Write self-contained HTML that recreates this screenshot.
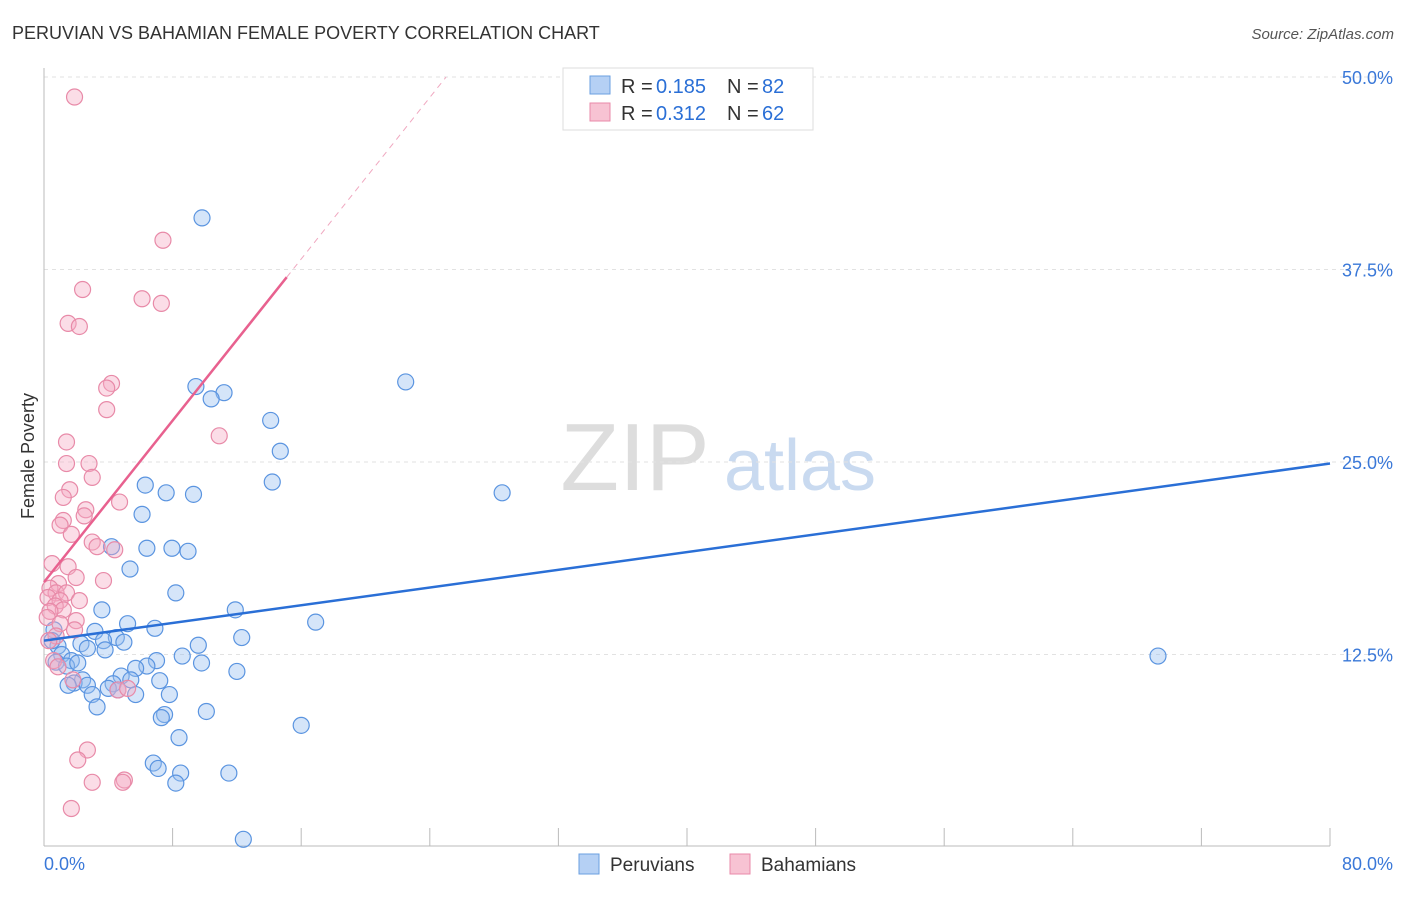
<!DOCTYPE html>
<html><head><meta charset="utf-8"><style>
body{margin:0;background:#fff;font-family:"Liberation Sans",sans-serif;}
svg text{font-family:"Liberation Sans",sans-serif;}
</style></head><body>
<svg id="chart" width="1406" height="892" viewBox="0 0 1406 892" xmlns="http://www.w3.org/2000/svg">
<text x="12" y="39" font-size="18" fill="#333">PERUVIAN VS BAHAMIAN FEMALE POVERTY CORRELATION CHART</text>
<text x="1394" y="39" font-size="15" fill="#555" text-anchor="end" font-style="italic">Source: ZipAtlas.com</text>
<text x="34" y="456" font-size="18" fill="#333" text-anchor="middle" transform="rotate(-90 34 456)">Female Poverty</text>
<g>
<text x="635" y="490" font-size="96" fill="#ddd" font-family="Liberation Serif,serif" text-anchor="middle">ZIP</text>
<text x="800" y="490" font-size="72" fill="#c9daf0" text-anchor="middle">atlas</text>
</g>
<g id="grid"></g><g id="axes"></g><g id="pts"></g><g id="lines"></g>
<g>
<rect x="563" y="68" width="250" height="62" fill="#fff" stroke="#ddd"/>
<rect x="590" y="76" width="20" height="18" fill="#b5d0f4" stroke="#6a9fe0"/>
<text x="621" y="93" font-size="20" fill="#333">R =</text>
<text x="656" y="93" font-size="20" fill="#2a6fd6">0.185</text>
<text x="727" y="93" font-size="20" fill="#333">N =</text>
<text x="762" y="93" font-size="20" fill="#2a6fd6">82</text>
<rect x="590" y="103" width="20" height="18" fill="#f7c3d3" stroke="#e88aa8"/>
<text x="621" y="120" font-size="20" fill="#333">R =</text>
<text x="656" y="120" font-size="20" fill="#2a6fd6">0.312</text>
<text x="727" y="120" font-size="20" fill="#333">N =</text>
<text x="762" y="120" font-size="20" fill="#2a6fd6">62</text>
</g>
<g>
<rect x="579" y="854" width="20" height="20" fill="#b5d0f4" stroke="#6a9fe0"/>
<text x="610" y="871" font-size="19" fill="#333">Peruvians</text>
<rect x="730" y="854" width="20" height="20" fill="#f7c3d3" stroke="#e88aa8"/>
<text x="761" y="871" font-size="19" fill="#333">Bahamians</text>
</g>
</svg>
<script>
const xTicks=[0,8,16,24,32,40,48,56,64,72,80];
const yTicks=[12.5,25,37.5,50];
const yTickLabels=["12.5%","25.0%","37.5%","50.0%"];
const xTickLabels=["0.0%","80.0%"];
const peruX=[9.83,22.5,28.5,69.3,9.45,11.2,10.4,14.1,14.7,14.2,6.3,7.6,9.3,6.1,4.2,6.4,7.96,8.96,5.35,8.2,3.6,11.9,16.9,5.2,6.9,3.17,0.62,4.5,4.97,3.7,2.3,12.3,9.6,0.87,0.5,2.7,1.1,3.8,1.7,8.6,9.8,7.0,6.4,5.7,0.75,1.4,2.1,12.0,4.8,5.4,2.4,1.87,2.7,1.5,4.3,7.2,4.0,4.6,3.0,5.7,7.8,3.3,10.1,7.5,7.3,16.0,8.4,6.8,7.1,8.5,11.5,8.2,12.4];
const peruY=[40.85,30.2,23.0,12.4,29.9,29.5,29.1,27.7,25.7,23.7,23.5,23.0,22.9,21.6,19.5,19.4,19.4,19.2,18.05,16.5,15.4,15.4,14.6,14.5,14.2,14.0,14.1,13.6,13.3,13.4,13.2,13.6,13.1,13.05,13.4,12.9,12.5,12.8,12.1,12.4,11.95,12.1,11.75,11.6,12.0,11.75,11.95,11.4,11.1,10.85,10.85,10.65,10.5,10.5,10.6,10.8,10.3,10.2,9.9,9.9,9.9,9.1,8.8,8.6,8.4,7.9,7.1,5.45,5.1,4.8,4.8,4.15,0.5];
const bahaX=[1.9,7.4,2.4,6.1,7.3,1.5,2.2,4.2,3.9,3.9,10.9,1.4,1.4,2.8,3.0,1.6,1.2,4.7,2.6,2.5,1.2,1.0,1.7,3.0,3.3,4.4,0.5,1.5,2.0,3.7,0.9,0.37,0.75,1.4,0.25,1.0,2.2,0.7,1.2,0.37,2.0,0.2,1.0,1.9,0.75,0.3,0.6,0.87,1.8,4.6,5.2,2.7,2.1,3.0,5.0,4.9,1.7];
const bahaY=[48.7,39.4,36.2,35.6,35.3,34.0,33.8,30.1,29.8,28.4,26.7,26.3,24.9,24.9,24.0,23.2,22.7,22.4,21.9,21.5,21.2,20.9,20.3,19.8,19.5,19.3,18.4,18.2,17.5,17.3,17.1,16.8,16.5,16.5,16.2,16.0,16.0,15.65,15.4,15.3,14.7,14.9,14.5,14.1,13.7,13.4,12.1,11.7,10.85,10.2,10.3,6.3,5.65,4.2,4.35,4.2,2.5];
const peruTrend=[13.4,24.9];
const bahaTrend=[17.2,37.0,15.1];
const NS="http://www.w3.org/2000/svg";
const X=v=>44+v/80*1286, Y=v=>847-v/12.5*192.5;
function mk(tag,attrs,parent){const e=document.createElementNS(NS,tag);for(const k in attrs)e.setAttribute(k,attrs[k]);document.getElementById(parent).appendChild(e);return e;}
yTicks.forEach((t,i)=>{
 const g=mk('line',{x1:44,x2:1394,y1:Y(t),y2:Y(t),stroke:'#e2e2e2','stroke-dasharray':'4,4'},'grid');
 
 
 const l=mk('text',{x:1393,y:Y(t)+7,'font-size':18,fill:'#3a78d8','text-anchor':'end'},'axes');
 l.textContent=yTickLabels[i];
 
 
});
const ax=mk('line',{x1:44,x2:1330,y1:846,y2:846,stroke:'#bbb'},'axes');


const ay=mk('line',{x1:44,x2:44,y1:68,y2:846,stroke:'#bbb'},'axes');


xTicks.forEach(t=>{
 const k=mk('line',{x1:X(t),x2:X(t),y1:828,y2:846,stroke:'#bbb'},'axes');
 
 
});
const xl0=mk('text',{x:44,y:870,'font-size':18,fill:'#3a78d8'},'axes');xl0.textContent=xTickLabels[0];


const xl1=mk('text',{x:1393,y:870,'font-size':18,fill:'#3a78d8','text-anchor':'end'},'axes');xl1.textContent=xTickLabels[1];


peruX.forEach((v,i)=>{
 const c=mk('circle',{cx:X(v),cy:Y(peruY[i]),r:8,fill:'rgba(150,190,240,0.4)',stroke:'#5a94e0','stroke-width':1.2},'pts');
 
 
});
bahaX.forEach((v,i)=>{
 const c=mk('circle',{cx:X(v),cy:Y(bahaY[i]),r:8,fill:'rgba(244,170,195,0.4)',stroke:'#e88aa8','stroke-width':1.2},'pts');
 
 
});
const bl=mk('line',{x1:X(0),y1:Y(peruTrend[0]),x2:X(80),y2:Y(peruTrend[1]),stroke:'#2a6fd6','stroke-width':2.5},'lines');


const slope=(bahaTrend[1]-bahaTrend[0])/bahaTrend[2];
const pl=mk('line',{x1:X(0),y1:Y(bahaTrend[0]),x2:X(bahaTrend[2]),y2:Y(bahaTrend[1]),stroke:'#e8618f','stroke-width':2.5},'lines');


const xe=(50-bahaTrend[0])/slope;
const pd=mk('line',{x1:X(bahaTrend[2]),y1:Y(bahaTrend[1]),x2:X(xe),y2:Y(50),stroke:'#f0a8c0','stroke-width':1,'stroke-dasharray':'6,5'},'lines');


</script>
</body></html>
